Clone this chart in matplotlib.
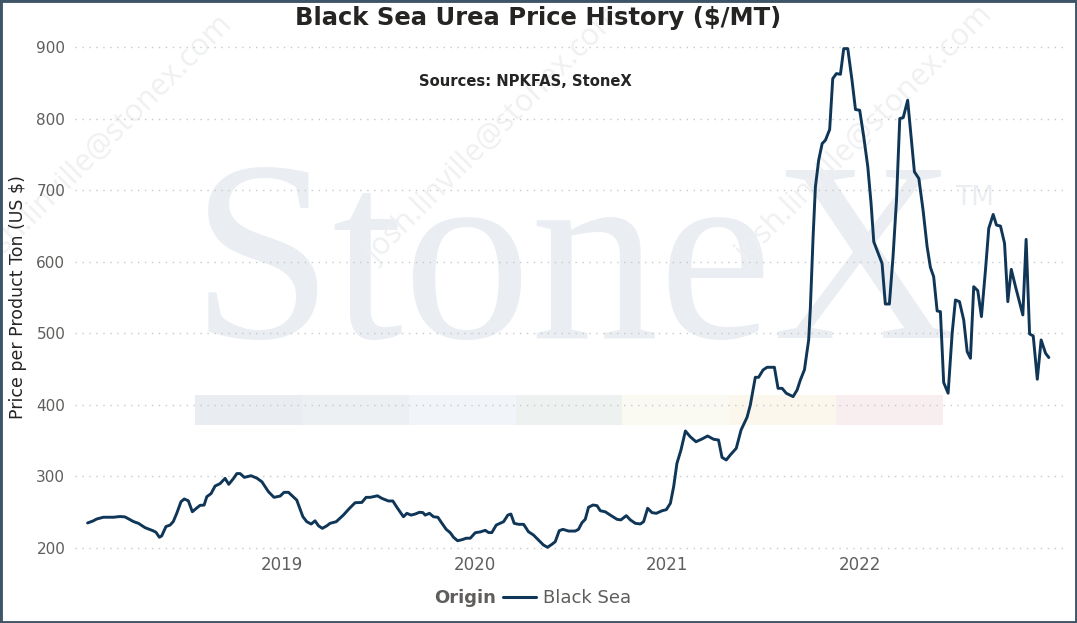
import numpy as np
import matplotlib
matplotlib.use("Agg")
import matplotlib.pyplot as plt
from matplotlib.patches import Rectangle

# ---------------- data (decimal years, $/MT) ----------------
dates_2018 = [2017.99, 2018.020, 2018.037, 2018.072, 2018.124, 2018.158, 2018.184, 2018.228, 2018.254, 2018.288,
              2018.331, 2018.345, 2018.363, 2018.375, 2018.397, 2018.418, 2018.435, 2018.453, 2018.475, 2018.492,
              2018.513, 2018.534, 2018.557, 2018.574, 2018.595, 2018.609, 2018.631, 2018.652, 2018.678, 2018.704,
              2018.723, 2018.747, 2018.765, 2018.782, 2018.804, 2018.839, 2018.869, 2018.895, 2018.929, 2018.958,
              2018.990]
price_2018 = [235, 238, 240.5, 243, 243, 244, 243.5, 237, 234.5, 228.5,
              224, 222, 215, 217, 230, 232, 237, 248.5, 264.7, 268.5,
              266, 250.7, 256, 259.6, 260, 271.7, 276, 286.6, 290, 297.3,
              289, 297, 304, 304, 298.7, 301, 297.6, 292.6, 278.7, 270.8,
              272.6]

dates_2019 = [2019.010, 2019.033, 2019.076, 2019.108, 2019.128, 2019.151, 2019.171, 2019.189, 2019.209, 2019.232,
              2019.249, 2019.281, 2019.318, 2019.350, 2019.379, 2019.414, 2019.436, 2019.457, 2019.474, 2019.495,
              2019.518, 2019.552, 2019.575, 2019.596, 2019.630, 2019.648, 2019.669, 2019.691, 2019.713, 2019.731,
              2019.743, 2019.765, 2019.786, 2019.809, 2019.830, 2019.852, 2019.873, 2019.890, 2019.911, 2019.934,
              2019.956, 2019.977]
price_2019 = [277.8, 277.8, 267, 243.7, 236.8, 233.5, 238, 231, 227.5, 231,
              234.5, 236.8, 246, 255.5, 263.3, 263.7, 270.8, 270.8, 271.7, 273,
              269.4, 265.7, 265.7, 256.9, 243.7, 248.5, 246, 247.5, 249.9, 249.5,
              246, 248.5, 243.7, 242.9, 234.5, 226.1, 221.4, 215, 210.2, 211.6,
              213.7, 213.7]

dates_2020 = [2020.003, 2020.029, 2020.055, 2020.072, 2020.089, 2020.112, 2020.132, 2020.150, 2020.172, 2020.188,
              2020.205, 2020.228, 2020.254, 2020.279, 2020.305, 2020.331, 2020.357, 2020.378, 2020.401, 2020.418,
              2020.439, 2020.458, 2020.487, 2020.522, 2020.539, 2020.557, 2020.574, 2020.591, 2020.614, 2020.635,
              2020.652, 2020.678, 2020.704, 2020.739, 2020.759, 2020.787, 2020.808, 2020.834, 2020.860, 2020.877,
              2020.898, 2020.921, 2020.943, 2020.973, 2020.995]
price_2020 = [221.4, 222.5, 224.7, 221.6, 221.6, 232.1, 234.5, 236.8, 246, 247.5,
              234.5, 233.1, 233.1, 222.8, 218.2, 211.2, 204.2, 201, 205.2, 208.8,
              224.2, 226.1, 223.7, 223.7, 226.1, 235.4, 240.1, 256.9, 260.1, 259.2,
              252.1, 250.6, 246, 240.1, 239.3, 245.2, 239.3, 234.5, 233.6, 236.8,
              255.5, 249.4, 248.5, 252.1, 253.6]

dates_2021 = [2021.016, 2021.033, 2021.050, 2021.071, 2021.094, 2021.119, 2021.149, 2021.180, 2021.209, 2021.241,
              2021.266, 2021.284, 2021.306, 2021.327, 2021.358, 2021.383, 2021.414, 2021.431, 2021.457, 2021.474,
              2021.497, 2021.518, 2021.556, 2021.575, 2021.596, 2021.618, 2021.653, 2021.674, 2021.691, 2021.712,
              2021.734, 2021.743, 2021.757, 2021.769, 2021.786, 2021.804, 2021.821, 2021.843, 2021.859, 2021.878,
              2021.899, 2021.916, 2021.937, 2021.959, 2021.977, 2021.999]
price_2021 = [262.5, 285.7, 318.3, 337, 363.5, 355.5, 348.5, 352.3, 356.5, 351.9,
              350.9, 326.7, 323, 330, 339.3, 364.9, 382.6, 399.8, 438.5, 438.5,
              448.7, 452.5, 452.5, 423.1, 423.1, 416.2, 411.5, 420.8, 434.9, 449,
              490.7, 537, 634.9, 704.7, 741.9, 765, 769.8, 784.7, 855.8, 862.8,
              861.9, 897.7, 897.7, 853.5, 812.6, 811.6]

dates_2022 = [2022.020, 2022.041, 2022.058, 2022.072, 2022.092, 2022.115, 2022.132, 2022.153, 2022.172, 2022.190,
              2022.207, 2022.225, 2022.248, 2022.266, 2022.283, 2022.306, 2022.328, 2022.349, 2022.366, 2022.383,
              2022.401, 2022.418, 2022.435, 2022.458, 2022.479, 2022.496, 2022.517, 2022.539, 2022.557, 2022.574,
              2022.591, 2022.612, 2022.631, 2022.652, 2022.669, 2022.692, 2022.709, 2022.730, 2022.751, 2022.768,
              2022.786, 2022.808, 2022.846, 2022.863, 2022.881, 2022.900, 2022.921, 2022.941, 2022.964, 2022.981]
price_2022 = [774.4, 732.6, 681.4, 627.9, 614, 597.7, 540.9, 540.9, 607, 686,
              800, 801.4, 825.6, 774.4, 725.6, 716.3, 672, 621, 592.1, 579.1,
              531.2, 530.2, 431.2, 416.3, 500, 546.5, 544.2, 518.6, 474.4, 465.1,
              565.1, 559.5, 523.3, 588.4, 646.5, 666, 651.2, 649.8, 625.6, 544.2,
              589.3, 565.1, 525.6, 631.2, 499.1, 496.3, 435.8, 490.7, 472.1, 466.1]

year_ticks = [2019, 2020, 2021, 2022]
price_ticks = [200, 300, 400, 500, 600, 700, 800, 900]
series_name = "Black Sea"

dates = np.array(dates_2018 + dates_2019 + dates_2020 + dates_2021 + dates_2022)
prices = np.array(price_2018 + price_2019 + price_2020 + price_2021 + price_2022)

# ---------------- figure ----------------
W, H = 1077, 623
fig = plt.figure(figsize=(W / 100, H / 100), dpi=100)
fig.patch.set_facecolor("white")

def fx(px):
    return px / W

def fy(py):
    return 1 - py / H

# watermark: StoneX logo and colour stripes
wm = "#eaeef2"
fig.text(fx(191), fy(338), "StoneX", fontsize=184, family="Liberation Serif",
         color=wm, ha="left", va="baseline", zorder=-2)
fig.text(fx(955), fy(205), "TM", fontsize=19, family="DejaVu Sans",
         color=wm, ha="left", va="baseline", zorder=-2)
stripe_cols = ["#e9edf1", "#ecf0f3", "#f1f5f9", "#edf2f1", "#fafaf3", "#fbf7ec", "#f8eeef"]
x0, x1 = 195, 943
sw = (x1 - x0) / len(stripe_cols)
for i, c in enumerate(stripe_cols):
    fig.patches.append(Rectangle((fx(x0 + i * sw), fy(425)), fx(sw), 30 / H,
                                 transform=fig.transFigure, facecolor=c,
                                 edgecolor="none", zorder=-2))
# diagonal e-mail watermarks
for cx, cy in [(105, 145), (495, 135), (865, 135)]:
    fig.text(fx(cx), fy(cy), "josh.linville@stonex.com", fontsize=22,
             family="Open Sans", color="#eff0f2", rotation=45,
             ha="center", va="center", rotation_mode="anchor", zorder=-1)

# axes
ax = fig.add_axes([fx(75), fy(551.6), fx(1065) - fx(75), (551.6 - 43.4) / H])
ax.set_facecolor("none")
ax.set_xlim(2017.9247, 2023.0649)
ax.set_ylim(195, 905)

ax.plot(dates, prices, color="#0f3557", lw=2.1, solid_joinstyle="round",
        solid_capstyle="round", zorder=3, label=series_name)

ax.set_yticks(price_ticks)
ax.set_yticklabels([str(v) for v in price_ticks])
ax.set_xticks(year_ticks)
ax.set_xticklabels([str(y) for y in year_ticks])
ax.tick_params(axis="y", length=0, pad=7, labelsize=11, labelcolor="#605e5c")
ax.tick_params(axis="x", length=0, pad=3, labelsize=12, labelcolor="#605e5c")
for s in ax.spines.values():
    s.set_visible(False)
ax.grid(axis="y", color="#c8c8c8", lw=1.0, linestyle=(0, (1, 4)))
ax.grid(axis="x", visible=False)
ax.set_axisbelow(True)

ax.set_ylabel("Price per Product Ton (US $)", fontsize=12.5, color="#252423")
ax.yaxis.set_label_coords((27 - 75) / 990, 0.5)

# titles
fig.text(fx(538), fy(18), "Black Sea Urea Price History ($/MT)", fontsize=17.5,
         fontweight="bold", color="#252423", ha="center", va="center")
fig.text(fx(525), fy(82), "Sources: NPKFAS, StoneX", fontsize=10.6,
         fontweight="bold", color="#252423", ha="center", va="center")

# legend
fig.text(fx(496), fy(598), "Origin", fontsize=13, fontweight="bold",
         color="#605e5c", ha="right", va="center")
leg = ax.legend(loc="center left", bbox_to_anchor=(fx(503), fy(598)),
                bbox_transform=fig.transFigure, frameon=False, fontsize=13,
                handlelength=1.85, handletextpad=0.35, borderpad=0,
                borderaxespad=0)
for t in leg.get_texts():
    t.set_color("#605e5c")
for h in leg.legend_handles:
    h.set_linewidth(2.2)

# border
fig.patches.append(Rectangle((0, 0), 1, 1, transform=fig.transFigure,
                             facecolor="none", edgecolor="#3e5568", lw=3.5,
                             zorder=10))

fig.savefig("out.png", dpi=100)
